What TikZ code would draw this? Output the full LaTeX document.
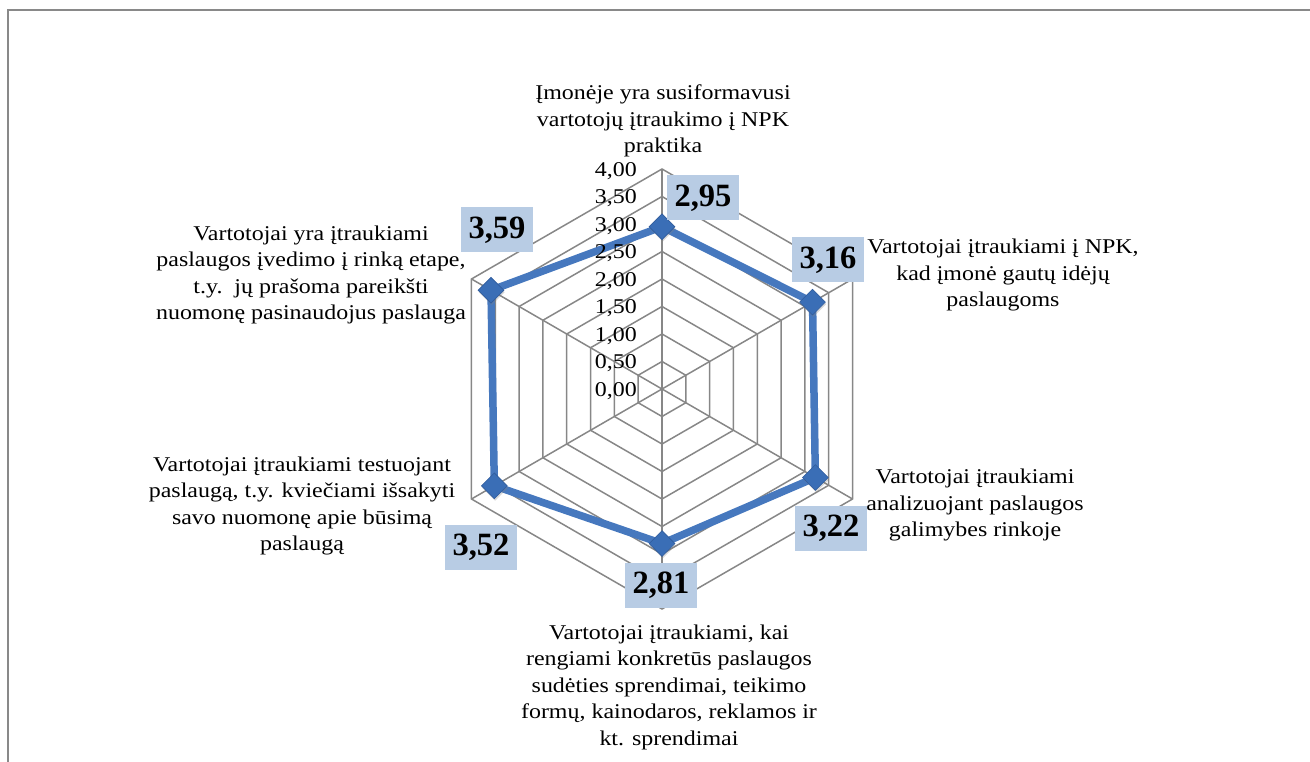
\documentclass[tikz,border=0pt]{standalone}
\usepackage{fontspec}
\setmainfont{Liberation Serif}[FakeStretch=1.14]
\newfontfamily\valfont{Liberation Serif}
\usetikzlibrary{shapes.geometric,shadows}
\definecolor{framegray}{RGB}{137,137,137}
\definecolor{gridgray}{RGB}{135,135,135}
\definecolor{seriesblue}{RGB}{70,120,190}
\definecolor{markerblue}{RGB}{58,110,182}
\definecolor{markeredge}{RGB}{48,92,156}
\definecolor{valfill}{RGB}{184,204,228}
\tikzset{
  gridline/.style={draw=gridgray, line width=1.5pt},
  seriesline/.style={draw=seriesblue, line width=7.5pt, line join=round},
  marker/.style={diamond, fill=markerblue, draw=markeredge, line width=0.6pt,
    inner sep=0pt, minimum size=26pt,
    drop shadow={opacity=0.3, shadow xshift=0.8pt, shadow yshift=-2pt}},
  valbox/.style={fill=valfill, inner sep=0pt, minimum width=72pt, minimum height=45pt,
    font=\valfont\bfseries\fontsize{32.5}{32.5}\selectfont},
  cat/.style={align=center, inner sep=0pt, font=\fontsize{21}{26.5}\selectfont},
  tick/.style={anchor=east, inner sep=0pt, font=\fontsize{21}{24}\selectfont}
}
\begin{document}
\begin{tikzpicture}[x=1pt,y=-1pt]
\useasboundingbox (0,0) rectangle (1310,762);
% outer frame (top and left edges)
\draw[framegray, line width=2.4pt] (8,762) -- (8,10) -- (1310,10);

% radar grid, data polygon
\coordinate (O) at (662,389);
\begin{scope}[shift={(O)}, yscale=-1]
  \foreach \k in {1,...,8}
    \draw[gridline] (90:{\k*27.5}) -- (30:{\k*27.5}) -- (-30:{\k*27.5})
      -- (-90:{\k*27.5}) -- (-150:{\k*27.5}) -- (150:{\k*27.5}) -- cycle;
  \foreach \a in {90,30,-30,-90,-150,150}
    \draw[gridline] (0,0) -- (\a:220);
  \foreach \v/\a/\n in {2.95/90/p1, 3.16/30/p2, 3.22/-30/p3, 2.81/-90/p4, 3.52/-150/p5, 3.59/150/p6}
    \coordinate (\n) at (\a:{\v*55});
\end{scope}

\draw[seriesline] (p1) -- (p2) -- (p3) -- (p4) -- (p5) -- (p6) -- cycle;
\foreach \n in {p1,p2,p3,p4,p5,p6}
  \node[marker] (m\n) at (\n) {};

% scale labels
\foreach \k/\t in {0/{0,00},1/{0,50},2/{1,00},3/{1,50},4/{2,00},5/{2,50},6/{3,00},7/{3,50},8/{4,00}}
  \node[tick] (t\k) at (637,{389-\k*27.5+2}) {\t};

% value labels
\node[valbox] (v1) at (703,198) {2,95};
\node[valbox] (v2) at (828,260) {3,16};
\node[valbox] (v3) at (831,528) {3,22};
\node[valbox] (v4) at (661,585) {2,81};
\node[valbox] (v5) at (481,547) {3,52};
\node[valbox] (v6) at (497,230) {3,59};

% category labels
\node[cat] (c1) at (663,121) {Įmonėje yra susiformavusi\\vartotojų įtraukimo į NPK\\praktika};
\node[cat] (c2) at (1003,275) {Vartotojai įtraukiami į NPK,\\kad įmonė gautų idėjų\\paslaugoms};
\node[cat] (c3) at (975,505) {Vartotojai įtraukiami\\analizuojant paslaugos\\galimybes rinkoje};
\node[cat] (c4) at (669,687) {Vartotojai įtraukiami, kai\\rengiami konkretūs paslaugos\\sudėties sprendimai, teikimo\\formų, kainodaros, reklamos ir\\kt. sprendimai};
\node[cat] (c5) at (302,506) {Vartotojai įtraukiami testuojant\\paslaugą, t.y. kviečiami išsakyti\\savo nuomonę apie būsimą\\paslaugą};
\node[cat] (c6) at (311,275) {Vartotojai yra įtraukiami\\paslaugos įvedimo į rinką etape,\\t.y.\ \ jų prašoma pareikšti\\nuomonę pasinaudojus paslauga};
\end{tikzpicture}
\end{document}
